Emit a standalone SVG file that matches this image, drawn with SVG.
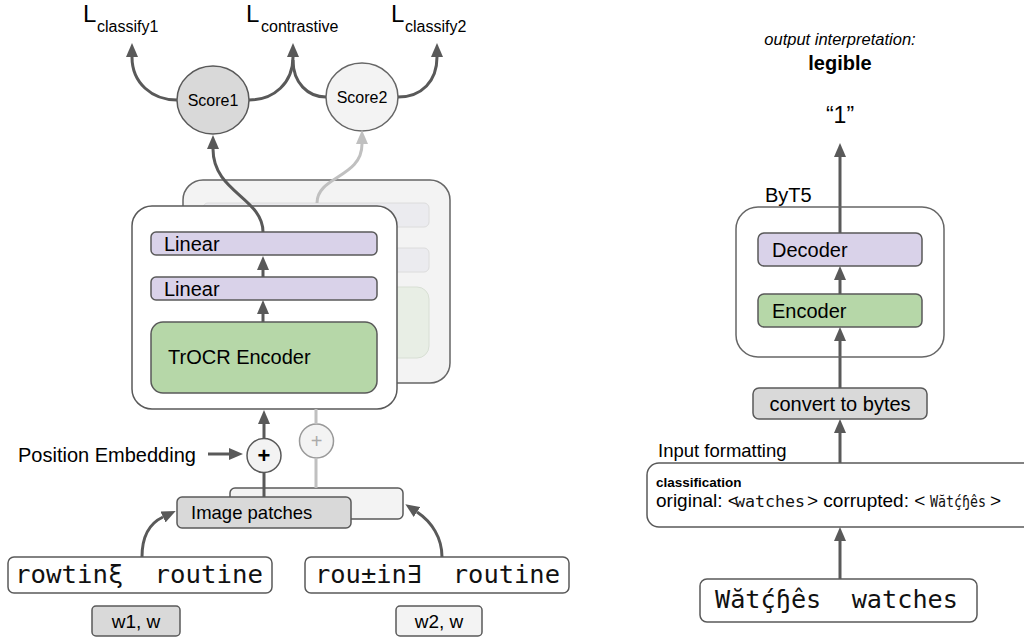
<svg xmlns="http://www.w3.org/2000/svg" width="1024" height="637" viewBox="0 0 1024 637">
<style>
.t{font-family:"Liberation Sans",Arial,sans-serif;fill:#000}
.m{font-family:"DejaVu Sans Mono","Liberation Mono",monospace;fill:#111;white-space:pre}
.box{stroke:#595959;stroke-width:1.5}
.ln{fill:none;stroke:#595959;stroke-width:3}
.lg{fill:none;stroke:#c0c0c0;stroke-width:3}
</style>
<defs>
<marker id="ah" markerUnits="userSpaceOnUse" markerWidth="14" markerHeight="12" refX="0" refY="6" orient="auto"><path d="M0,0 L14,6 L0,12 z" fill="#595959"/></marker>
<marker id="ahg" markerUnits="userSpaceOnUse" markerWidth="14" markerHeight="12" refX="0" refY="6" orient="auto"><path d="M0,0 L14,6 L0,12 z" fill="#c0c0c0"/></marker>
</defs>
<rect width="1024" height="637" fill="#fff"/>

<!-- loss labels -->
<g id="loss1"><text class="t" x="83" y="22" font-size="24">L</text><text class="t" x="97" y="32" font-size="16">classify1</text></g>
<g id="loss2"><text class="t" x="246" y="22" font-size="24">L</text><text class="t" x="261" y="32" font-size="16">contrastive</text></g>
<g id="loss3"><text class="t" x="391" y="22" font-size="24">L</text><text class="t" x="405" y="32" font-size="16">classify2</text></g>

<!-- back panel -->
<g id="panel-back">
<rect x="183" y="180" width="267" height="203" rx="20" fill="#f3f3f3" stroke="#666" stroke-width="1.5"/>
<rect x="203" y="203" width="226" height="24" rx="5" fill="#ebebef" stroke="#dcdcdc"/>
<rect x="203" y="248" width="226" height="24" rx="5" fill="#ebebef" stroke="#dcdcdc"/>
<rect x="203" y="287" width="226" height="71" rx="12" fill="#e8eee5" stroke="#d8dfd4"/>
</g>

<!-- front panel -->
<g id="panel-front">
<rect x="132" y="206" width="265" height="203" rx="20" fill="#fff" stroke="#595959" stroke-width="1.5"/>
</g>
<g id="linear1"><rect class="box" x="151" y="232" width="226" height="23" rx="5" fill="#d9d2e9"/><text class="t" x="164" y="251" font-size="20">Linear</text></g>
<g id="linear2"><rect class="box" x="151" y="277" width="226" height="23" rx="5" fill="#d9d2e9"/><text class="t" x="164" y="296" font-size="20">Linear</text></g>
<g id="trocr"><rect class="box" x="151" y="322" width="226" height="71" rx="12" fill="#b6d7a8"/><text class="t" x="168" y="364" font-size="20">TrOCR Encoder</text></g>

<!-- scores -->
<g id="score1"><ellipse cx="213" cy="100" rx="36" ry="34" fill="#d9d9d9" stroke="#595959" stroke-width="1.5"/><text class="t" x="213" y="106" font-size="16" text-anchor="middle">Score1</text></g>
<g id="score2"><ellipse cx="362" cy="97" rx="36" ry="34" fill="#f3f3f3" stroke="#666" stroke-width="1.5"/><text class="t" x="362" y="103" font-size="16" text-anchor="middle">Score2</text></g>

<!-- plus circles and patches -->
<g id="plus2"><circle cx="316.5" cy="441" r="17" fill="#f3f3f3" stroke="#999" stroke-width="1.5"/><text x="316.5" y="448" font-size="20" text-anchor="middle" fill="#aaa" font-family="Liberation Sans,Arial,sans-serif">+</text></g>
<g id="patches-back"><rect class="box" x="230" y="488" width="173" height="31" rx="5" fill="#f3f3f3"/></g>

<g id="connectors">
<path class="ln" d="M177,100 C152,100 132,83 132,57" marker-end="url(#ah)"/>
<path class="ln" d="M249,100 C274,100 293,83 293,57" marker-end="url(#ah)"/>
<path class="ln" d="M326,97 C308,97 293,83 293,60"/>
<path class="ln" d="M398,97 C422,97 437,81 437,57" marker-end="url(#ah)"/>
<path class="ln" d="M263,232 C263,198 213,192 213,149" marker-end="url(#ah)"/>
<path class="lg" d="M317,203 C317,176 362,178 362,144" marker-end="url(#ahg)"/>
<path class="ln" d="M263,277 L263,270" marker-end="url(#ah)"/>
<path class="ln" d="M263,322 L263,314" marker-end="url(#ah)"/>
<path class="ln" d="M264,439 L264,424" marker-end="url(#ah)"/>
<path class="ln" d="M208,454 L229,454" marker-end="url(#ah)"/>
<path class="ln" d="M264,497 L264,472"/>
<path class="lg" d="M316,409 L316,424 M316,458 L316,488"/>
<path class="ln" d="M142,557 C142,537 148,524 163,517" marker-end="url(#ah)"/>
<path class="ln" d="M442,557 C442,538 432,522 417,512" marker-end="url(#ah)"/>
<path class="ln" d="M840,233 L840,157" marker-end="url(#ah)"/>
<path class="ln" d="M840,294 L840,280" marker-end="url(#ah)"/>
<path class="ln" d="M840,388 L840,341" marker-end="url(#ah)"/>
<path class="ln" d="M840,463 L840,433" marker-end="url(#ah)"/>
<path class="ln" d="M840,579 L840,541" marker-end="url(#ah)"/>
</g>

<g id="plus1"><circle cx="264" cy="455.5" r="17" fill="#f3f3f3" stroke="#595959" stroke-width="1.5"/><text x="264" y="463" font-size="22" font-weight="bold" text-anchor="middle" fill="#000" font-family="Liberation Sans,Arial,sans-serif">+</text></g>
<g id="posemb"><text class="t" x="18" y="462" font-size="20">Position Embedding</text></g>
<g id="patches-front"><rect class="box" x="177" y="497" width="174" height="31" rx="5" fill="#d9d9d9"/><text class="t" x="191" y="519" font-size="18.5">Image patches</text></g>

<g id="word1"><rect class="box" x="8" y="557" width="264" height="36" rx="6" fill="#fff"/><text class="m" x="15" y="583" font-size="25" xml:space="preserve" textLength="248" lengthAdjust="spacingAndGlyphs">rowtinξ  routine</text></g>
<g id="word2"><rect class="box" x="305" y="557" width="264" height="36" rx="6" fill="#fff"/><text class="m" x="315" y="583" font-size="25" xml:space="preserve" textLength="245" lengthAdjust="spacingAndGlyphs">rou±in∃  routine</text></g>
<g id="w1"><rect class="box" x="92" y="606" width="88" height="30" rx="4" fill="#d9d9d9"/><text class="t" x="136" y="628" font-size="19" text-anchor="middle">w1, w</text></g>
<g id="w2"><rect class="box" x="396" y="606" width="86" height="30" rx="4" fill="#f3f3f3"/><text class="t" x="439" y="628" font-size="19" text-anchor="middle">w2, w</text></g>

<!-- right side -->
<g id="output"><text class="t" x="840" y="45" font-size="16.5" font-style="italic" text-anchor="middle">output interpretation:</text><text class="t" x="840" y="70" font-size="20" font-weight="bold" text-anchor="middle">legible</text><text class="t" x="840" y="123" font-size="23" text-anchor="middle">“1”</text></g>
<g id="byt5"><text class="t" x="765" y="202" font-size="20">ByT5</text><rect x="736" y="207" width="208" height="150" rx="22" fill="none" stroke="#666" stroke-width="1.5"/></g>
<g id="decoder"><rect class="box" x="758" y="233" width="164" height="33" rx="6" fill="#d9d2e9"/><text class="t" x="772" y="257" font-size="20">Decoder</text></g>
<g id="encoder"><rect class="box" x="758" y="294" width="164" height="33" rx="6" fill="#b6d7a8"/><text class="t" x="772" y="318" font-size="20">Encoder</text></g>
<g id="convert"><rect class="box" x="753" y="388" width="174" height="31" rx="6" fill="#d9d9d9"/><text class="t" x="840" y="411" font-size="20" text-anchor="middle">convert to bytes</text></g>
<g id="inputfmt"><text class="t" x="658" y="457" font-size="18.5">Input formatting</text>
<rect class="box" x="647" y="463" width="400" height="64" rx="12" fill="#fff"/>
<text class="t" x="656" y="487" font-size="13.5" font-weight="bold">classification</text>
<text class="t" y="507" font-size="19"><tspan x="656">original: &lt;</tspan><tspan class="m" x="735" font-size="16" textLength="70" lengthAdjust="spacingAndGlyphs">watches</tspan><tspan x="807">&gt; corrupted: &lt;</tspan><tspan class="m" x="930" font-size="16" textLength="56" lengthAdjust="spacingAndGlyphs">Wătḉɧês</tspan><tspan x="990">&gt;</tspan></text></g>
<g id="word3"><rect class="box" x="700" y="579" width="277" height="43" rx="7" fill="#fff"/><text class="m" x="715" y="608" font-size="25" xml:space="preserve" textLength="243" lengthAdjust="spacingAndGlyphs">Wătḉɧês  watches</text></g>
</svg>
